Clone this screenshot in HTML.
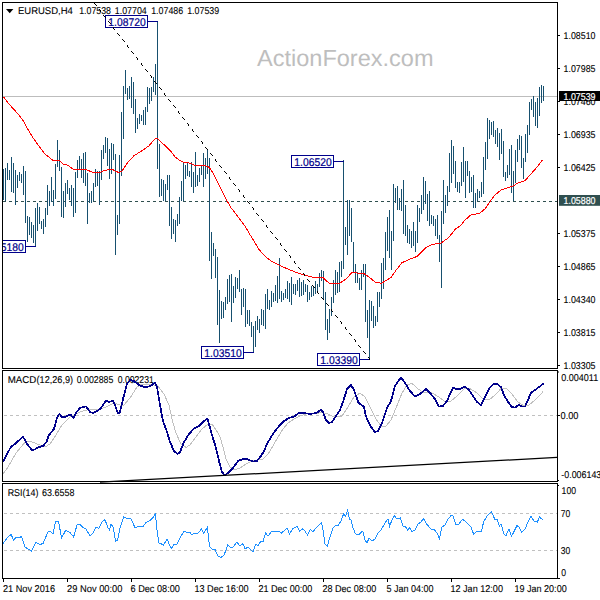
<!DOCTYPE html>
<html><head><meta charset="utf-8"><title>EURUSD H4</title>
<style>html,body{margin:0;padding:0;background:#fff;width:600px;height:600px;overflow:hidden}svg{display:block}text{font-family:"Liberation Sans",sans-serif;text-rendering:geometricPrecision}.t{stroke:#000;stroke-width:.1px}</style></head>
<body>
<svg width="600" height="600" viewBox="0 0 600 600">
<rect width="600" height="600" fill="#fff"/>
<text x="257" y="66.3" font-size="23.2" fill="#bebebe" textLength="176.5" lengthAdjust="spacingAndGlyphs">ActionForex.com</text>
<rect x="3" y="96" width="554" height="1" fill="#bdbdbd"/>
<line x1="3" y1="201.5" x2="557" y2="201.5" stroke="#2f4f4f" stroke-width="1" stroke-dasharray="3 3" shape-rendering="crispEdges"/>
<path d="M3.5 169V200M5.5 168V201M7.5 163V180M9.5 170V180M11.5 157V192M13.5 163V193M15.5 170V205M17.5 175V188M19.5 172V181M21.5 174V183M23.5 166V195M25.5 171V223M27.5 216V242M29.5 217V235M31.5 222V238M33.5 225V243M35.5 208V247M37.5 203V231M39.5 207V224M41.5 221V229M43.5 219V234M45.5 208V227M47.5 185V215M49.5 191V206M51.5 177V202M53.5 190V206M55.5 164V199M57.5 140V167M59.5 150V171M61.5 167V217M63.5 191V218M65.5 183V207M67.5 180V194M69.5 188V200M71.5 185V206M73.5 188V217M75.5 172V213M77.5 160V178M79.5 156V170M81.5 159V178M83.5 153V183M85.5 152V186M87.5 173V224M89.5 193V203M91.5 191V203M93.5 183V201M95.5 169V187M97.5 171V186M99.5 171V205M101.5 150V180M103.5 145V159M105.5 137V153M107.5 138V166M109.5 149V179M111.5 143V174M113.5 144V160M115.5 154V255M117.5 215V235M119.5 155V224M121.5 112V176M123.5 86V139M125.5 70V94M127.5 88V100M129.5 86V99M131.5 77V108M133.5 82V114M135.5 99V133M137.5 118V129M139.5 114V124M141.5 115V121M143.5 110V125M145.5 107V125M147.5 87V112M149.5 88V104M151.5 87V101M153.5 77V92M155.5 64V95M157.5 21V169M159.5 144V197M161.5 179V196M163.5 180V201M165.5 184V201M167.5 175V190M169.5 175V226M171.5 207V239M173.5 219V234M175.5 220V242M177.5 214V226M179.5 197V224M181.5 181V201M183.5 162V201M185.5 165V179M187.5 163V176M189.5 171V177M191.5 162V187M193.5 172V193M195.5 152V187M197.5 175V186M199.5 168V182M201.5 166V175M203.5 153V187M205.5 158V179M207.5 149V174M209.5 158V261M211.5 232V279M213.5 243V256M215.5 249V278M217.5 257V325M219.5 290V343M221.5 301V319M223.5 302V318M225.5 297V310M227.5 279V304M229.5 275V302M231.5 274V322M233.5 286V303M235.5 277V298M237.5 278V289M239.5 270V292M241.5 289V315M243.5 288V307M245.5 289V327M247.5 310V324M249.5 310V326M251.5 322V337M253.5 326V352M255.5 321V347M257.5 316V330M259.5 319V333M261.5 309V325M263.5 310V326M265.5 294V329M267.5 289V309M269.5 300V310M271.5 291V307M273.5 293V302M275.5 285V301M277.5 276V303M279.5 258V299M281.5 291V302M283.5 293V300M285.5 289V298M287.5 281V299M289.5 283V302M291.5 277V305M293.5 284V294M295.5 284V295M297.5 280V291M299.5 278V297M301.5 282V296M303.5 280V295M305.5 284V292M307.5 285V302M309.5 292V300M311.5 286V297M313.5 286V296M315.5 281V294M317.5 284V291M319.5 273V287M321.5 270V281M323.5 271V299M325.5 292V330M327.5 319V340M329.5 309V333M331.5 297V316M333.5 280V303M335.5 270V295M337.5 272V293M339.5 262V292M341.5 261V277M343.5 160V269M345.5 227V245M347.5 200V255M349.5 200V236M351.5 208V242M353.5 242V273M355.5 264V283M357.5 272V283M359.5 278V290M361.5 270V290M363.5 264V277M365.5 264V322M367.5 310V338M369.5 300V359M371.5 301V321M373.5 306V328M375.5 316V326M377.5 292V322M379.5 292V307M381.5 263V299M383.5 258V289M385.5 232V270M387.5 217V251M389.5 210V258M391.5 231V270M393.5 184V241M395.5 188V203M397.5 186V210M399.5 198V210M401.5 189V211M403.5 180V234M405.5 205V236M407.5 225V243M409.5 229V244M411.5 231V248M413.5 222V246M415.5 231V252M417.5 205V243M419.5 208V222M421.5 195V214M423.5 177V210M425.5 181V204M427.5 194V221M429.5 191V226M431.5 215V224M433.5 216V226M435.5 219V236M437.5 215V239M439.5 235V262M441.5 211V288M443.5 180V224M445.5 195V213M447.5 186V206M449.5 153V192M451.5 140V183M453.5 146V174M455.5 161V188M457.5 182V192M459.5 182V193M461.5 162V186M463.5 147V182M465.5 161V198M467.5 161V176M469.5 171V193M471.5 177V192M473.5 175V208M475.5 193V208M477.5 189V201M479.5 191V198M481.5 182V197M483.5 157V194M485.5 142V170M487.5 118V159M489.5 120V139M491.5 122V135M493.5 121V137M495.5 130V144M497.5 128V147M499.5 133V160M501.5 129V154M503.5 141V177M505.5 172V181M507.5 165V178M509.5 149V175M511.5 145V193M513.5 171V201M515.5 150V183M517.5 139V162M519.5 135V150M521.5 136V168M523.5 158V179M525.5 134V162M527.5 125V153M529.5 102V135M531.5 99V110M533.5 96V117M535.5 102V126M537.5 98V128M539.5 87V116M541.5 85V103M543.5 86V101" stroke="#17506f" stroke-width="1" fill="none"/>
<polyline points="3.3,96.7 8.3,103.3 16.7,112.5 22.5,119.5 26.7,127.5 33.3,138.3 40.0,147.5 45.0,154.0 48.3,156.7 53.3,160.5 59.2,160.5 63.3,164.0 68.3,165.3 73.3,169.5 85.8,169.5 93.3,172.5 100.0,172.5 105.0,170.2 112.5,169.4 115.6,171.2 118.8,172.5 121.9,171.0 128.1,161.9 133.8,155.9 141.2,151.2 148.8,146.0 155.0,138.8 157.5,138.8 165.0,145.6 170.0,150.3 175.0,157.0 180.0,160.6 183.8,162.5 188.8,162.8 195.0,165.4 202.5,165.6 207.5,166.2 210.0,168.5 213.8,174.4 220.0,186.9 226.2,199.4 231.2,208.0 236.2,214.4 245.0,226.2 252.0,238.0 259.4,250.0 265.0,256.2 271.2,261.2 280.0,265.6 290.0,270.0 300.0,273.8 310.0,276.7 317.5,277.9 322.5,277.2 328.8,283.0 339.4,283.4 346.2,278.8 351.9,272.5 355.6,272.5 358.0,273.5 363.8,273.5 368.8,276.9 375.0,281.9 381.2,283.4 385.0,281.2 391.2,277.2 396.2,270.0 401.9,262.8 408.8,259.6 417.5,256.2 426.2,247.5 432.5,244.4 441.2,242.9 448.8,237.5 455.0,229.5 461.2,225.0 465.0,220.0 470.6,215.2 480.0,213.0 485.0,208.8 490.0,201.9 491.7,199.2 495.0,195.0 500.8,190.2 506.7,188.2 513.3,186.0 518.3,182.7 525.0,180.8 530.0,175.0 536.7,167.5 542.5,160.0" fill="none" stroke="#f00" stroke-width="1" shape-rendering="crispEdges"/>
<rect x="148" y="21" width="10" height="1" fill="#00008b"/><rect x="105.5" y="15.5" width="42" height="12" fill="#fff" stroke="#00008b" stroke-width="1" shape-rendering="crispEdges"/><text x="108.3" y="26" font-size="11.2" fill="#00008b" stroke="#00008b" stroke-width=".2" textLength="37.4" lengthAdjust="spacingAndGlyphs">1.08720</text>
<rect x="334" y="161" width="10" height="1" fill="#00008b"/><rect x="291.5" y="155.5" width="42" height="12" fill="#fff" stroke="#00008b" stroke-width="1" shape-rendering="crispEdges"/><text x="294.3" y="166" font-size="11.2" fill="#00008b" stroke="#00008b" stroke-width=".2" textLength="37.4" lengthAdjust="spacingAndGlyphs">1.06520</text>
<rect x="244" y="352" width="10" height="1" fill="#00008b"/><rect x="201.5" y="346.5" width="42" height="12" fill="#fff" stroke="#00008b" stroke-width="1" shape-rendering="crispEdges"/><text x="204.3" y="357" font-size="11.2" fill="#00008b" stroke="#00008b" stroke-width=".2" textLength="37.4" lengthAdjust="spacingAndGlyphs">1.03510</text>
<rect x="360" y="359" width="10" height="1" fill="#00008b"/><rect x="317.5" y="353.5" width="42" height="12" fill="#fff" stroke="#00008b" stroke-width="1" shape-rendering="crispEdges"/><text x="320.3" y="364" font-size="11.2" fill="#00008b" stroke="#00008b" stroke-width=".2" textLength="37.4" lengthAdjust="spacingAndGlyphs">1.03390</text>
<g clip-path="url(#cm)"><rect x="26" y="246" width="10" height="1" fill="#00008b"/><rect x="-16.5" y="240.5" width="42" height="12" fill="#fff" stroke="#00008b" stroke-width="1" shape-rendering="crispEdges"/><text x="-13.7" y="251" font-size="11.2" fill="#00008b" stroke="#00008b" stroke-width=".2" textLength="37.4" lengthAdjust="spacingAndGlyphs">1.05180</text></g>
<defs><clipPath id="cm"><rect x="3" y="3" width="554" height="365"/></clipPath></defs>
<path d="M94 3h1v1h-1zM95 4h1v1h-1zM96 5h1v1h-1zM99 9h1v1h-1zM100 10h1v1h-1zM100 11h1v1h-1zM103 15h1v1h-1zM104 16h1v1h-1zM105 17h1v1h-1zM108 21h1v1h-1zM109 22h1v1h-1zM110 23h1v1h-1zM113 27h1v1h-1zM113 28h1v1h-1zM114 29h1v1h-1zM117 33h1v1h-1zM118 34h1v1h-1zM119 35h1v1h-1zM122 39h1v1h-1zM123 40h1v1h-1zM124 41h1v1h-1zM127 45h1v1h-1zM127 46h1v1h-1zM128 47h1v1h-1zM131 51h1v1h-1zM132 52h1v1h-1zM133 53h1v1h-1zM136 57h1v1h-1zM137 58h1v1h-1zM137 59h1v1h-1zM141 63h1v1h-1zM141 64h1v1h-1zM142 65h1v1h-1zM145 69h1v1h-1zM146 70h1v1h-1zM147 71h1v1h-1zM150 75h1v1h-1zM151 76h1v1h-1zM151 77h1v1h-1zM154 81h1v1h-1zM155 82h1v1h-1zM156 83h1v1h-1zM159 87h1v1h-1zM160 88h1v1h-1zM161 89h1v1h-1zM164 93h1v1h-1zM164 94h1v1h-1zM165 95h1v1h-1zM168 99h1v1h-1zM169 100h1v1h-1zM170 101h1v1h-1zM173 105h1v1h-1zM174 106h1v1h-1zM175 107h1v1h-1zM178 111h1v1h-1zM178 112h1v1h-1zM179 113h1v1h-1zM182 117h1v1h-1zM183 118h1v1h-1zM184 119h1v1h-1zM187 123h1v1h-1zM188 124h1v1h-1zM188 125h1v1h-1zM192 129h1v1h-1zM192 130h1v1h-1zM193 131h1v1h-1zM196 135h1v1h-1zM197 136h1v1h-1zM198 137h1v1h-1zM201 141h1v1h-1zM202 142h1v1h-1zM202 143h1v1h-1zM205 147h1v1h-1zM206 148h1v1h-1zM207 149h1v1h-1zM210 153h1v1h-1zM211 154h1v1h-1zM212 155h1v1h-1zM215 159h1v1h-1zM215 160h1v1h-1zM216 161h1v1h-1zM219 165h1v1h-1zM220 166h1v1h-1zM221 167h1v1h-1zM224 171h1v1h-1zM225 172h1v1h-1zM226 173h1v1h-1zM229 177h1v1h-1zM229 178h1v1h-1zM230 179h1v1h-1zM233 183h1v1h-1zM234 184h1v1h-1zM235 185h1v1h-1zM238 189h1v1h-1zM239 190h1v1h-1zM239 191h1v1h-1zM243 195h1v1h-1zM243 196h1v1h-1zM244 197h1v1h-1zM247 201h1v1h-1zM248 202h1v1h-1zM249 203h1v1h-1zM252 207h1v1h-1zM253 208h1v1h-1zM253 209h1v1h-1zM256 213h1v1h-1zM257 214h1v1h-1zM258 215h1v1h-1zM261 219h1v1h-1zM262 220h1v1h-1zM263 221h1v1h-1zM266 225h1v1h-1zM266 226h1v1h-1zM267 227h1v1h-1zM270 231h1v1h-1zM271 232h1v1h-1zM272 233h1v1h-1zM275 237h1v1h-1zM276 238h1v1h-1zM277 239h1v1h-1zM280 243h1v1h-1zM280 244h1v1h-1zM281 245h1v1h-1zM284 249h1v1h-1zM285 250h1v1h-1zM286 251h1v1h-1zM289 255h1v1h-1zM290 256h1v1h-1zM290 257h1v1h-1zM294 261h1v1h-1zM294 262h1v1h-1zM295 263h1v1h-1zM298 267h1v1h-1zM299 268h1v1h-1zM300 269h1v1h-1zM303 273h1v1h-1zM304 274h1v1h-1zM304 275h1v1h-1zM307 279h1v1h-1zM308 280h1v1h-1zM309 281h1v1h-1zM312 285h1v1h-1zM313 286h1v1h-1zM314 287h1v1h-1zM317 291h1v1h-1zM317 292h1v1h-1zM318 293h1v1h-1zM321 297h1v1h-1zM322 298h1v1h-1zM323 299h1v1h-1zM326 303h1v1h-1zM327 304h1v1h-1zM328 305h1v1h-1zM331 309h1v1h-1zM331 310h1v1h-1zM332 311h1v1h-1zM335 315h1v1h-1zM336 316h1v1h-1zM337 317h1v1h-1zM340 321h1v1h-1zM341 322h1v1h-1zM341 323h1v1h-1zM345 327h1v1h-1zM345 328h1v1h-1zM346 329h1v1h-1zM349 333h1v1h-1zM350 334h1v1h-1zM351 335h1v1h-1zM354 339h1v1h-1zM355 340h1v1h-1zM355 341h1v1h-1zM358 345h1v1h-1zM359 346h1v1h-1zM360 347h1v1h-1zM363 351h1v1h-1zM364 352h1v1h-1zM365 353h1v1h-1zM368 357h1v1h-1zM369 358h1v1h-1zM369 359h1v1h-1z" fill="#000" shape-rendering="crispEdges"/>
<g fill="none" stroke="#000" stroke-width="1" shape-rendering="crispEdges">
<rect x="2.5" y="2.5" width="555" height="366"/>
<rect x="2.5" y="370.5" width="555" height="111"/>
<rect x="2.5" y="483.5" width="555" height="95"/>
</g>
<path d="M6 9h7.4l-3.7 4.2z" fill="#000"/>
<text x="18" y="14" class="t" font-size="9.9" fill="#000" textLength="54.8" lengthAdjust="spacingAndGlyphs">EURUSD,H4</text>
<text x="79.2" y="14" class="t" font-size="9.9" fill="#000" textLength="31.8" lengthAdjust="spacingAndGlyphs">1.07538</text>
<text x="114.8" y="14" class="t" font-size="9.9" fill="#000" textLength="32" lengthAdjust="spacingAndGlyphs">1.07704</text>
<text x="151.2" y="14" class="t" font-size="9.9" fill="#000" textLength="32" lengthAdjust="spacingAndGlyphs">1.07486</text>
<text x="187.2" y="14" class="t" font-size="9.9" fill="#000" textLength="32" lengthAdjust="spacingAndGlyphs">1.07539</text>
<rect x="558" y="35.0" width="2" height="1" fill="#000"/>
<text x="563.5" y="39" class="t" font-size="9.9" fill="#000" textLength="32" lengthAdjust="spacingAndGlyphs">1.08510</text>
<rect x="558" y="68.0" width="2" height="1" fill="#000"/>
<text x="563.5" y="72" class="t" font-size="9.9" fill="#000" textLength="32" lengthAdjust="spacingAndGlyphs">1.07985</text>
<rect x="558" y="101.0" width="2" height="1" fill="#000"/>
<text x="563.5" y="105" class="t" font-size="9.9" fill="#000" textLength="32" lengthAdjust="spacingAndGlyphs">1.07460</text>
<rect x="558" y="134.0" width="2" height="1" fill="#000"/>
<text x="563.5" y="138" class="t" font-size="9.9" fill="#000" textLength="32" lengthAdjust="spacingAndGlyphs">1.06935</text>
<rect x="558" y="167.0" width="2" height="1" fill="#000"/>
<text x="563.5" y="171" class="t" font-size="9.9" fill="#000" textLength="32" lengthAdjust="spacingAndGlyphs">1.06425</text>
<rect x="558" y="233.0" width="2" height="1" fill="#000"/>
<text x="563.5" y="237" class="t" font-size="9.9" fill="#000" textLength="32" lengthAdjust="spacingAndGlyphs">1.05375</text>
<rect x="558" y="266.0" width="2" height="1" fill="#000"/>
<text x="563.5" y="270" class="t" font-size="9.9" fill="#000" textLength="32" lengthAdjust="spacingAndGlyphs">1.04865</text>
<rect x="558" y="299.0" width="2" height="1" fill="#000"/>
<text x="563.5" y="303" class="t" font-size="9.9" fill="#000" textLength="32" lengthAdjust="spacingAndGlyphs">1.04340</text>
<rect x="558" y="332.0" width="2" height="1" fill="#000"/>
<text x="563.5" y="336" class="t" font-size="9.9" fill="#000" textLength="32" lengthAdjust="spacingAndGlyphs">1.03815</text>
<rect x="558" y="365.0" width="2" height="1" fill="#000"/>
<text x="563.5" y="369" class="t" font-size="9.9" fill="#000" textLength="32" lengthAdjust="spacingAndGlyphs">1.03305</text>
<rect x="559" y="91" width="41" height="10" fill="#000"/>
<text x="563.5" y="100" font-size="9.9" fill="#fff" stroke="#fff" stroke-width=".2" textLength="32" lengthAdjust="spacingAndGlyphs">1.07539</text>
<rect x="559" y="195" width="41" height="10.8" fill="#2f4f4f"/>
<text x="563.5" y="204" font-size="9.9" fill="#fff" stroke="#fff" stroke-width=".2" textLength="32" lengthAdjust="spacingAndGlyphs">1.05880</text>
<text x="7.7" y="383" class="t" font-size="9.9" fill="#000" textLength="28.6" lengthAdjust="spacingAndGlyphs">MACD</text>
<text x="36.6" y="383" class="t" font-size="9.9" fill="#000" textLength="36.4" lengthAdjust="spacingAndGlyphs">(12,26,9)</text>
<text x="76.7" y="383" class="t" font-size="9.9" fill="#000" textLength="36.6" lengthAdjust="spacingAndGlyphs">0.002885</text>
<text x="117.7" y="383" class="t" font-size="9.9" fill="#000" textLength="36.1" lengthAdjust="spacingAndGlyphs">0.002231</text>
<line x1="4" y1="415.5" x2="557" y2="415.5" stroke="#c0c0c0" stroke-width="1" stroke-dasharray="3 3" shape-rendering="crispEdges"/>
<polyline points="3.0,474.0 8.0,467.0 16.0,453.0 26.0,441.0 32.0,442.0 40.0,445.0 45.0,447.0 50.0,444.0 56.0,435.0 62.0,425.0 70.0,417.0 80.0,412.0 90.0,409.0 100.0,409.4 108.0,406.0 114.0,403.0 120.0,405.0 124.0,405.0 130.0,398.0 137.0,387.0 142.0,384.0 150.0,384.0 158.0,386.0 164.0,394.0 169.0,405.0 172.0,419.0 176.0,433.0 181.0,444.0 186.0,447.4 190.0,445.0 196.0,437.0 202.0,429.0 208.0,424.0 212.0,424.0 218.0,433.0 220.0,437.0 223.0,447.0 226.0,459.0 230.0,467.0 234.0,470.0 240.0,468.0 246.0,464.0 252.0,461.0 258.0,460.0 263.0,459.0 268.0,454.0 273.0,446.0 278.0,437.0 283.0,429.0 288.0,423.0 294.0,419.0 300.0,416.0 306.0,414.0 314.0,413.6 322.0,412.6 328.0,414.0 334.0,417.0 342.0,416.0 348.0,407.0 354.0,397.0 360.0,393.0 365.0,397.0 370.0,407.0 376.0,419.0 381.0,426.0 386.0,426.0 391.0,420.0 396.0,408.0 402.0,393.0 407.0,385.0 412.0,383.4 418.0,389.0 424.0,392.6 432.0,393.0 439.0,397.0 445.0,401.5 451.0,401.0 457.0,396.0 464.0,389.0 470.0,388.6 477.0,393.0 483.0,399.0 489.0,400.0 495.0,395.0 501.0,388.6 506.0,388.0 512.0,394.0 518.0,402.0 524.0,406.0 529.0,405.0 535.0,400.0 540.0,395.0 543.0,391.6" fill="none" stroke="#c0c0c0" stroke-width="1" shape-rendering="crispEdges"/>
<polyline points="3.6,461.0 11.0,446.6 15.0,444.0 23.0,436.6 27.0,444.0 32.0,450.0 35.0,449.4 39.0,447.0 43.0,446.0 46.4,442.0 49.0,435.0 54.0,429.0 57.0,418.0 59.4,414.0 62.0,417.0 66.0,416.6 70.4,414.6 73.6,418.0 76.0,413.0 80.0,408.0 86.0,406.4 90.0,412.0 93.0,413.0 98.0,410.6 101.0,408.0 106.0,400.6 109.0,402.0 113.0,400.6 115.0,405.0 118.0,413.6 120.0,412.0 123.0,399.0 127.0,384.0 130.0,380.0 134.0,381.0 139.0,385.0 145.0,387.4 150.0,386.0 155.0,383.0 157.0,387.0 160.0,405.0 163.0,421.0 167.0,432.0 170.0,442.0 174.0,451.0 177.6,454.0 180.0,452.0 184.0,442.0 189.0,434.0 194.0,428.6 199.0,426.0 203.0,422.0 207.4,418.6 209.0,424.0 212.0,435.0 216.0,448.0 219.0,461.0 222.0,472.0 225.0,475.4 229.0,472.0 233.0,468.0 238.0,461.0 244.0,458.6 248.0,459.4 253.0,461.6 257.0,461.0 261.0,456.0 264.0,451.0 267.0,444.0 271.0,437.0 275.0,431.0 280.0,425.0 284.0,421.0 289.0,418.0 294.0,416.6 299.0,413.0 304.0,413.0 310.0,414.0 316.0,413.0 321.0,410.0 323.0,412.0 326.0,420.0 329.0,423.0 332.0,422.0 336.0,416.0 340.0,410.0 343.0,402.0 347.0,389.0 351.0,385.0 354.0,390.0 358.3,402.3 361.7,405.3 363.7,406.5 365.7,415.0 367.0,419.0 371.0,427.0 375.0,432.0 378.0,431.0 382.0,423.0 387.0,408.0 391.0,401.0 395.0,386.0 401.0,377.4 405.0,383.0 410.0,391.0 415.0,396.6 420.0,394.0 426.0,389.0 430.0,393.0 435.0,399.0 439.0,406.6 443.0,406.0 447.0,401.0 450.0,394.0 453.0,388.0 457.0,389.0 461.0,388.6 465.0,386.6 469.0,390.0 473.0,396.0 477.0,402.0 481.0,405.0 485.0,397.0 489.0,388.6 493.0,384.4 497.0,384.0 501.0,387.0 504.0,395.0 508.0,402.0 512.0,407.0 515.0,407.6 519.0,404.6 522.0,406.6 525.0,406.6 528.0,400.0 531.0,392.6 535.0,390.0 539.0,387.0 543.0,384.0" fill="none" stroke="#00008b" stroke-width="1.75" stroke-linejoin="round" stroke-linecap="round" shape-rendering="crispEdges"/>
<line x1="100" y1="482.1" x2="557" y2="457.4" stroke="#000" stroke-width="1.3"/>
<rect x="558" y="371.5" width="1" height="1" fill="#000"/>
<text x="561.2" y="381" class="t" font-size="9.9" fill="#000" textLength="37" lengthAdjust="spacingAndGlyphs">0.004011</text>
<rect x="558" y="415" width="2" height="1" fill="#000"/>
<text x="560.5" y="419" class="t" font-size="9.9" fill="#000" textLength="18" lengthAdjust="spacingAndGlyphs">0.00</text>
<text x="561.3" y="478" class="t" font-size="9.9" fill="#000" textLength="40" lengthAdjust="spacingAndGlyphs">-0.006143</text>
<text x="7.7" y="496" class="t" font-size="9.9" fill="#000" textLength="30.7" lengthAdjust="spacingAndGlyphs">RSI(14)</text>
<text x="42" y="496" class="t" font-size="9.9" fill="#000" textLength="32.4" lengthAdjust="spacingAndGlyphs">63.6558</text>
<line x1="4" y1="513.5" x2="557" y2="513.5" stroke="#c0c0c0" stroke-width="1" stroke-dasharray="3 3" shape-rendering="crispEdges"/>
<line x1="4" y1="550.5" x2="557" y2="550.5" stroke="#c0c0c0" stroke-width="1" stroke-dasharray="3 3" shape-rendering="crispEdges"/>
<polyline points="3.0,543.6 7.0,538.0 11.0,534.4 13.6,540.0 16.0,537.6 19.0,538.0 21.6,536.4 25.0,547.0 28.0,549.0 31.6,551.0 36.0,542.4 40.0,544.4 43.0,543.6 48.0,532.0 50.0,531.0 53.0,534.0 55.6,521.0 58.4,521.0 61.6,538.0 65.6,530.4 70.0,532.4 73.6,537.0 77.0,525.0 80.0,524.4 83.0,527.6 86.0,529.0 90.0,536.0 93.0,533.0 96.0,527.0 99.0,528.4 102.0,522.0 105.0,519.6 108.0,528.0 109.6,530.0 111.0,524.0 113.0,527.0 115.6,541.0 117.6,540.0 120.0,528.0 123.6,517.0 127.0,518.4 131.0,519.0 135.0,527.6 139.0,526.4 143.0,526.4 146.0,522.4 150.0,520.6 153.0,517.6 155.4,514.0 157.0,530.0 159.0,543.0 161.6,544.0 163.6,545.0 167.0,539.0 169.6,545.0 171.6,548.4 174.0,544.4 177.0,544.0 180.0,538.0 184.0,531.0 187.0,532.4 190.0,532.4 192.0,535.0 194.4,533.0 198.0,533.0 201.6,529.0 203.6,533.0 207.4,527.4 209.4,546.0 212.0,549.0 215.0,549.4 218.0,556.0 221.0,557.6 224.0,555.0 226.0,550.0 227.6,545.0 230.0,547.0 233.0,547.0 237.0,542.0 240.0,546.0 243.0,543.6 245.0,549.0 248.0,547.0 253.0,552.0 255.6,544.4 258.0,545.6 261.0,541.0 263.0,541.6 265.6,533.0 268.0,536.0 272.0,531.0 276.0,532.0 279.0,531.0 281.6,533.0 287.0,528.0 289.6,534.0 292.4,529.0 297.0,526.4 299.6,531.0 302.4,529.0 305.0,531.0 307.4,535.0 310.4,529.6 313.0,531.6 316.0,528.0 321.4,522.4 323.0,530.0 325.0,544.0 327.4,546.0 330.0,537.0 333.0,528.0 336.0,525.0 338.0,526.0 341.0,521.0 343.6,514.0 345.6,516.0 347.6,510.4 349.4,519.0 351.0,519.6 353.0,528.0 355.6,534.0 359.0,535.0 361.6,531.6 363.0,532.0 365.0,540.0 367.0,543.0 369.0,538.0 372.0,541.0 375.0,539.0 378.0,533.0 381.0,530.0 385.0,523.0 388.0,519.0 389.6,526.0 392.0,520.0 394.4,515.6 397.0,519.0 400.4,518.0 403.0,526.0 405.6,527.0 407.6,530.0 409.6,528.0 412.0,531.6 415.0,530.0 418.0,524.0 421.0,522.0 423.4,518.4 426.0,523.0 429.0,527.0 432.0,530.0 434.0,529.0 437.0,533.0 439.4,538.4 442.0,527.0 445.0,525.0 448.0,519.0 451.0,515.6 453.0,515.6 456.0,525.0 459.0,524.0 462.4,519.4 465.0,521.0 468.0,524.0 471.0,527.0 473.6,534.0 477.0,531.0 479.0,531.0 481.4,531.6 483.6,522.0 487.0,516.0 491.6,511.6 495.0,520.0 497.0,519.0 499.4,526.0 501.0,524.0 504.0,534.0 506.0,535.6 509.0,529.0 511.4,536.4 514.0,531.6 517.0,525.6 519.0,527.0 521.6,532.4 525.0,529.0 528.0,522.0 531.0,516.4 534.0,521.0 537.4,522.0 539.4,517.0 542.6,519.6" fill="none" stroke="#1e90ff" stroke-width="1" shape-rendering="crispEdges"/>
<text x="561.6" y="494" class="t" font-size="9.9" fill="#000" textLength="14.5" lengthAdjust="spacingAndGlyphs">100</text>
<text x="560.7" y="517" class="t" font-size="9.9" fill="#000" textLength="9.5" lengthAdjust="spacingAndGlyphs">70</text>
<text x="560.7" y="554" class="t" font-size="9.9" fill="#000" textLength="9.5" lengthAdjust="spacingAndGlyphs">30</text>
<text x="561.3" y="576" class="t" font-size="9.9" fill="#000" textLength="4.8" lengthAdjust="spacingAndGlyphs">0</text>
<path d="M558 480h1v1h-1zM558 485h1v1h-1zM558 578h2v1h-2z" fill="#000"/>
<rect x="3" y="579" width="1" height="3" fill="#000"/>
<text x="3" y="592" class="t" font-size="9.9" fill="#000" textLength="52" lengthAdjust="spacingAndGlyphs">21 Nov 2016</text>
<rect x="67" y="579" width="1" height="3" fill="#000"/>
<text x="67" y="592" class="t" font-size="9.9" fill="#000" textLength="55.5" lengthAdjust="spacingAndGlyphs">29 Nov 00:00</text>
<rect x="131" y="579" width="1" height="3" fill="#000"/>
<text x="130.5" y="592" class="t" font-size="9.9" fill="#000" textLength="49.4" lengthAdjust="spacingAndGlyphs">6 Dec 08:00</text>
<rect x="195" y="579" width="1" height="3" fill="#000"/>
<text x="194.4" y="592" class="t" font-size="9.9" fill="#000" textLength="54.2" lengthAdjust="spacingAndGlyphs">13 Dec 16:00</text>
<rect x="259" y="579" width="1" height="3" fill="#000"/>
<text x="258.4" y="592" class="t" font-size="9.9" fill="#000" textLength="54" lengthAdjust="spacingAndGlyphs">21 Dec 00:00</text>
<rect x="323" y="579" width="1" height="3" fill="#000"/>
<text x="322.4" y="592" class="t" font-size="9.9" fill="#000" textLength="54" lengthAdjust="spacingAndGlyphs">28 Dec 08:00</text>
<rect x="387" y="579" width="1" height="3" fill="#000"/>
<text x="386.4" y="592" class="t" font-size="9.9" fill="#000" textLength="47.2" lengthAdjust="spacingAndGlyphs">5 Jan 04:00</text>
<rect x="451" y="579" width="1" height="3" fill="#000"/>
<text x="450.4" y="592" class="t" font-size="9.9" fill="#000" textLength="52.6" lengthAdjust="spacingAndGlyphs">12 Jan 12:00</text>
<rect x="515" y="579" width="1" height="3" fill="#000"/>
<text x="514.4" y="592" class="t" font-size="9.9" fill="#000" textLength="52.3" lengthAdjust="spacingAndGlyphs">19 Jan 20:00</text>
</svg></body></html>
